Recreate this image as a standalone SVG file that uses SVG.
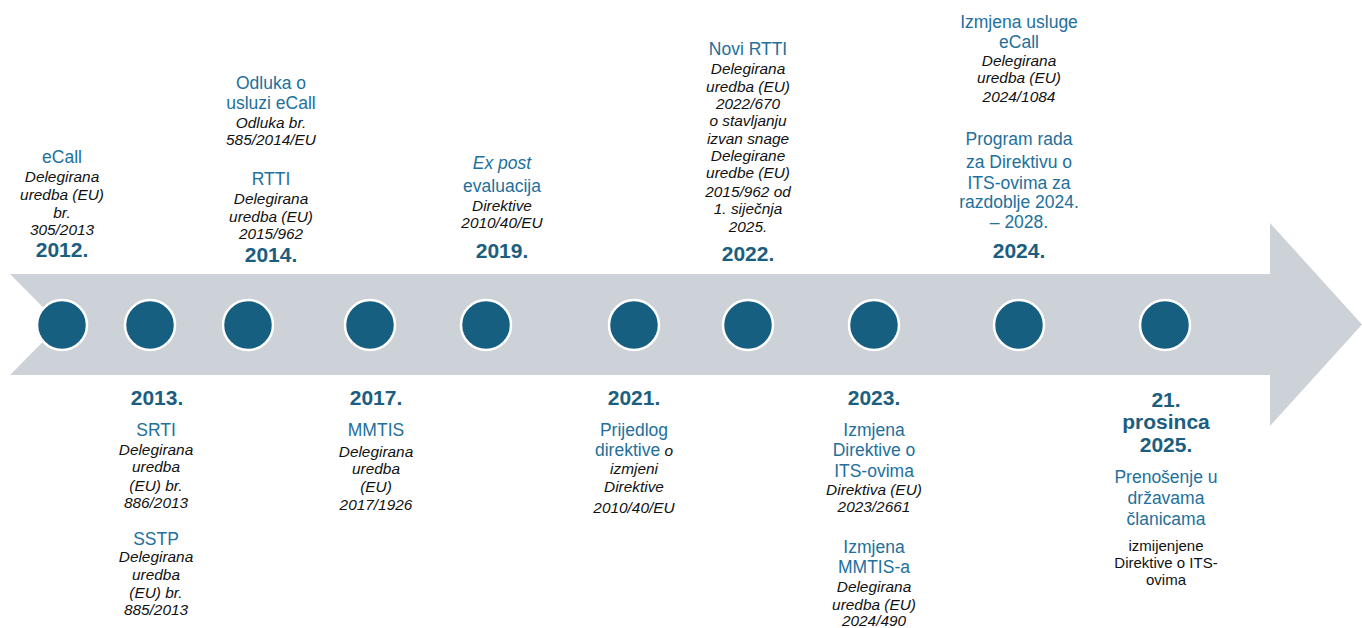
<svg xmlns="http://www.w3.org/2000/svg" width="1362" height="628" viewBox="0 0 1362 628">
<style>
text{font-family:"Liberation Sans",Arial,sans-serif;text-anchor:middle}
.t{font-size:17.5px;fill:#22709b}
.i{font-size:15.4px;font-style:italic;fill:#111}
.y{font-size:21px;font-weight:bold;fill:#1b5e80}
.n{font-size:15px;fill:#111}
.dot{fill:#175f80;stroke:#fff;stroke-width:2.5}
</style>
<rect width="1362" height="628" fill="#fff"/>
<g id="connectors">
<polygon points="10,274 1270,274 1270,223 1362,324.5 1270,426 1270,375 10,375 60,324.5" fill="#cdd2d8"/>
</g>
<g id="dots">
<circle class="dot" cx="62" cy="325" r="25"/>
<circle class="dot" cx="150" cy="325" r="25"/>
<circle class="dot" cx="248" cy="325" r="25"/>
<circle class="dot" cx="370" cy="325" r="25"/>
<circle class="dot" cx="486" cy="325" r="25"/>
<circle class="dot" cx="634" cy="325" r="25"/>
<circle class="dot" cx="748" cy="325" r="25"/>
<circle class="dot" cx="874" cy="325" r="25"/>
<circle class="dot" cx="1019" cy="325" r="25"/>
<circle class="dot" cx="1165" cy="325" r="25"/>
</g>
<g id="n2012">
<text class="t" x="62" y="163">eCall</text>
<text class="i" x="62" y="182">Delegirana</text>
<text class="i" x="62" y="200">uredba (EU)</text>
<text class="i" x="62" y="218">br.</text>
<text class="i" x="62" y="235">305/2013</text>
<text class="y" x="62" y="257">2012.</text>
</g>
<g id="n2014">
<text class="t" x="271" y="89">Odluka o</text>
<text class="t" x="271" y="109">usluzi eCall</text>
<text class="i" x="271" y="128">Odluka br.</text>
<text class="i" x="271" y="145">585/2014/EU</text>
<text class="t" x="271" y="185">RTTI</text>
<text class="i" x="271" y="204">Delegirana</text>
<text class="i" x="271" y="222">uredba (EU)</text>
<text class="i" x="271" y="239">2015/962</text>
<text class="y" x="271" y="262">2014.</text>
</g>
<g id="n2019">
<text class="t" x="502" y="169" font-style="italic">Ex post</text>
<text class="t" x="502" y="192">evaluacija</text>
<text class="i" x="502" y="211">Direktive</text>
<text class="i" x="502" y="228">2010/40/EU</text>
<text class="y" x="502" y="258">2019.</text>
</g>
<g id="n2022">
<text class="t" x="748" y="55">Novi RTTI</text>
<text class="i" x="748" y="74">Delegirana</text>
<text class="i" x="748" y="92">uredba (EU)</text>
<text class="i" x="748" y="109">2022/670</text>
<text class="i" x="748" y="126">o stavljanju</text>
<text class="i" x="748" y="144">izvan snage</text>
<text class="i" x="748" y="161">Delegirane</text>
<text class="i" x="748" y="178">uredbe (EU)</text>
<text class="i" x="748" y="197">2015/962 od</text>
<text class="i" x="748" y="214">1. siječnja</text>
<text class="i" x="748" y="232">2025.</text>
<text class="y" x="748" y="261">2022.</text>
</g>
<g id="n2024">
<text class="t" x="1019" y="28">Izmjena usluge</text>
<text class="t" x="1019" y="48">eCall</text>
<text class="i" x="1019" y="66">Delegirana</text>
<text class="i" x="1019" y="83">uredba (EU)</text>
<text class="i" x="1019" y="102">2024/1084</text>
<text class="t" x="1019" y="145">Program rada</text>
<text class="t" x="1019" y="168">za Direktivu o</text>
<text class="t" x="1019" y="189">ITS-ovima za</text>
<text class="t" x="1019" y="208">razdoblje 2024.</text>
<text class="t" x="1019" y="228">– 2028.</text>
<text class="y" x="1019" y="258">2024.</text>
</g>
<g id="n2013">
<text class="y" x="157" y="405">2013.</text>
<text class="t" x="156" y="436">SRTI</text>
<text class="i" x="156" y="455">Delegirana</text>
<text class="i" x="156" y="472">uredba</text>
<text class="i" x="156" y="491">(EU) br.</text>
<text class="i" x="156" y="508">886/2013</text>
<text class="t" x="156" y="545">SSTP</text>
<text class="i" x="156" y="562">Delegirana</text>
<text class="i" x="156" y="580">uredba</text>
<text class="i" x="156" y="598">(EU) br.</text>
<text class="i" x="156" y="615">885/2013</text>
</g>
<g id="n2017">
<text class="y" x="376" y="405">2017.</text>
<text class="t" x="376" y="436">MMTIS</text>
<text class="i" x="376" y="457">Delegirana</text>
<text class="i" x="376" y="474">uredba</text>
<text class="i" x="376" y="492">(EU)</text>
<text class="i" x="376" y="510">2017/1926</text>
</g>
<g id="n2021">
<text class="y" x="634" y="405">2021.</text>
<text class="t" x="634" y="436">Prijedlog</text>
<text x="634" y="456"><tspan class="t">direktive</tspan><tspan class="i"> o</tspan></text>
<text class="i" x="634" y="474">izmjeni</text>
<text class="i" x="634" y="492">Direktive</text>
<text class="i" x="634" y="513">2010/40/EU</text>
</g>
<g id="n2023">
<text class="y" x="874" y="405">2023.</text>
<text class="t" x="874" y="436">Izmjena</text>
<text class="t" x="874" y="456">Direktive o</text>
<text class="t" x="874" y="477">ITS-ovima</text>
<text class="i" x="874" y="495">Direktiva (EU)</text>
<text class="i" x="874" y="512">2023/2661</text>
<text class="t" x="874" y="553">Izmjena</text>
<text class="t" x="874" y="573">MMTIS-a</text>
<text class="i" x="874" y="592">Delegirana</text>
<text class="i" x="874" y="610">uredba (EU)</text>
<text class="i" x="874" y="626">2024/490</text>
</g>
<g id="n2025">
<text class="y" x="1166" y="407">21.</text>
<text class="y" x="1166" y="429">prosinca</text>
<text class="y" x="1166" y="452">2025.</text>
<text class="t" x="1166" y="483">Prenošenje u</text>
<text class="t" x="1166" y="504">državama</text>
<text class="t" x="1166" y="525">članicama</text>
<text class="n" x="1166" y="551">izmijenjene</text>
<text class="n" x="1166" y="568">Direktive o ITS-</text>
<text class="n" x="1166" y="585">ovima</text>
</g>
</svg>
